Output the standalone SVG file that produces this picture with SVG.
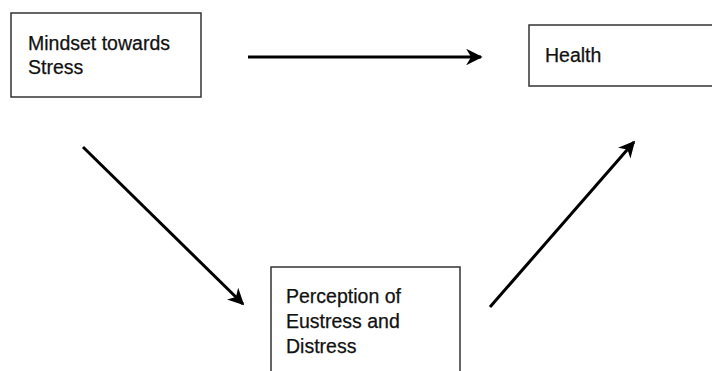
<svg xmlns="http://www.w3.org/2000/svg" width="712" height="371" viewBox="0 0 712 371">
<style>
.box{fill:#fff;stroke:#333;stroke-width:1.5}
.lbl{font-family:"Liberation Sans",Arial,sans-serif;font-size:19.5px;fill:#111;stroke:#111;stroke-width:0.25}
.conn{stroke:#000;stroke-width:3;fill:none}
</style>
<defs>
<marker id="ah" viewBox="0 0 10 10" refX="9" refY="5" markerWidth="5.5" markerHeight="5.5" markerUnits="strokeWidth" orient="auto">
<path d="M0,0 L10,5 L0,10 L3,5 Z" fill="#000"/>
</marker>
</defs>
<rect width="712" height="371" fill="#fff"/>
<g id="mindset">
<rect class="box" x="11" y="13" width="190" height="84"/>
<text class="lbl" x="28" y="50">Mindset towards</text>
<text class="lbl" x="28" y="74">Stress</text>
</g>
<g id="health">
<rect class="box" x="529" y="25" width="200" height="61"/>
<text class="lbl" x="545" y="62">Health</text>
</g>
<g id="perception">
<rect class="box" x="271" y="267" width="189" height="120"/>
<text class="lbl" x="286" y="303">Perception of</text>
<text class="lbl" x="286" y="328">Eustress and</text>
<text class="lbl" x="286" y="353">Distress</text>
</g>
<g id="connectors">
<line class="conn" x1="248" y1="57" x2="481" y2="57" marker-end="url(#ah)"/>
<line class="conn" x1="83" y1="147" x2="243" y2="304" marker-end="url(#ah)"/>
<line class="conn" x1="490" y1="307" x2="634" y2="142" marker-end="url(#ah)"/>
</g>
</svg>
